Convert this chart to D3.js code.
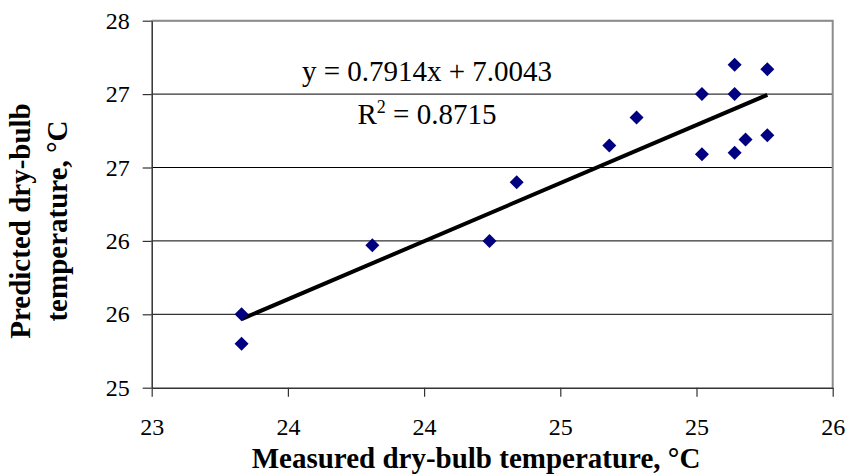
<!DOCTYPE html>
<html>
<head>
<meta charset="utf-8">
<script src="https://cdn.jsdelivr.net/npm/d3@7"></script>
<style>
  html, body { margin: 0; padding: 0; background: #fff; }
  svg { display: block; }
  text { font-family: "Liberation Serif", "Times New Roman", serif; fill: #000; }
</style>
</head>
<body>
<svg id="chart" width="848" height="474"></svg>
<script>
// ---- data ----
const measured  = [23.33, 23.33, 23.81, 24.24, 24.34, 24.68, 24.78, 25.02, 25.02, 25.14, 25.14, 25.14, 25.18, 25.26, 25.26];
const predicted = [25.50, 25.30, 25.97, 26.00, 26.40, 26.65, 26.84, 27.00, 26.59, 27.20, 27.00, 26.60, 26.69, 27.17, 26.72];
const xTickValues = [23, 23.5, 24, 24.5, 25, 25.5];
const xTickLabels = ["23", "24", "24", "25", "25", "26"];
const yTickValues = [25, 25.5, 26, 26.5, 27, 27.5];
const yTickLabels = ["25", "26", "26", "27", "27", "28"];
const trendSlope = 0.7914;
const trendIntercept = 7.0043;
const rSquared = "0.8715";

// ---- layout ----
const serif = '"Liberation Serif", "Times New Roman", serif';
const svg = d3.select("#chart");
const pLeft = 151.7, pRight = 832.7, pTop = 20.7, pBottom = 387.7;

const x = d3.scaleLinear().domain([23, 25.5]).range([pLeft, pRight]);
const y = d3.scaleLinear().domain([25, 27.5]).range([pBottom, pTop]);

// gridlines
svg.append("g")
  .selectAll("line")
  .data(yTickValues.slice(1))
  .join("line")
  .attr("x1", pLeft).attr("x2", pRight)
  .attr("y1", d => y(d)).attr("y2", d => y(d))
  .attr("stroke", "#000").attr("stroke-width", 1);

// plot border (top/right gray)
svg.append("path")
  .attr("d", `M${pLeft},${pTop}H${pRight}V${pBottom}`)
  .attr("fill", "none").attr("stroke", "#8c8c8c").attr("stroke-width", 2);

// axes
const xAxis = d3.axisBottom(x)
  .tickValues(xTickValues)
  .tickFormat((d, i) => xTickLabels[i])
  .tickSizeInner(9).tickSizeOuter(0).tickPadding(21);
const gx = svg.append("g").attr("transform", `translate(0,${pBottom})`).call(xAxis);
gx.attr("font-family", null);
gx.select(".domain").attr("stroke", "#333").attr("stroke-width", 1.5);
gx.selectAll(".tick line").attr("stroke", "#333").attr("stroke-width", 1.2);
gx.selectAll(".tick text").style("font-size", "24px").style("font-family", serif).attr("fill", "#000");

const yAxis = d3.axisLeft(y)
  .tickValues(yTickValues)
  .tickFormat((d, i) => yTickLabels[i])
  .tickSizeInner(9).tickSizeOuter(0).tickPadding(13);
const gy = svg.append("g").attr("transform", `translate(${pLeft},0)`).call(yAxis);
gy.attr("font-family", null);
gy.select(".domain").attr("stroke", "#333").attr("stroke-width", 1.5);
gy.selectAll(".tick line").attr("stroke", "#333").attr("stroke-width", 1.2);
gy.selectAll(".tick text").style("font-size", "24px").style("font-family", serif).attr("fill", "#000");

// trend line
const xMin = d3.min(measured), xMax = d3.max(measured);
svg.append("line")
  .attr("x1", x(xMin)).attr("y1", y(trendSlope * xMin + trendIntercept))
  .attr("x2", x(xMax)).attr("y2", y(trendSlope * xMax + trendIntercept))
  .attr("stroke", "#000").attr("stroke-width", 4);

// points
const pts = measured.map((m, i) => ({ m, p: predicted[i] }));
svg.append("g")
  .selectAll("path")
  .data(pts)
  .join("path")
  .attr("d", d3.symbol().type(d3.symbolSquare).size(98))
  .attr("transform", d => `translate(${x(d.m)},${y(d.p)}) rotate(45)`)
  .attr("fill", "#000080");

// equation
svg.append("text")
  .attr("x", 427).attr("y", 81)
  .attr("text-anchor", "middle").style("font-size", "29px")
  .text(`y = ${trendSlope}x + ${trendIntercept.toFixed(4)}`);
const r2 = svg.append("text")
  .attr("x", 427).attr("y", 124)
  .attr("text-anchor", "middle").style("font-size", "29px");
r2.append("tspan").text("R");
r2.append("tspan").style("font-size", "18px").attr("dy", -11).text("2");
r2.append("tspan").attr("dy", 11).text(` = ${rSquared}`);

// axis titles
svg.append("text")
  .attr("x", 476).attr("y", 468)
  .attr("text-anchor", "middle").style("font-size", "29px").attr("font-weight", "bold")
  .text("Measured dry-bulb temperature, °C");

const yt = svg.append("text")
  .attr("transform", "translate(30,221) rotate(-90)")
  .attr("text-anchor", "middle").style("font-size", "29px").attr("font-weight", "bold");
yt.append("tspan").attr("x", 0).attr("y", 0).text("Predicted dry-bulb");
yt.append("tspan").attr("x", 0).attr("y", 37).text("temperature, °C");
</script>
</body>
</html>
